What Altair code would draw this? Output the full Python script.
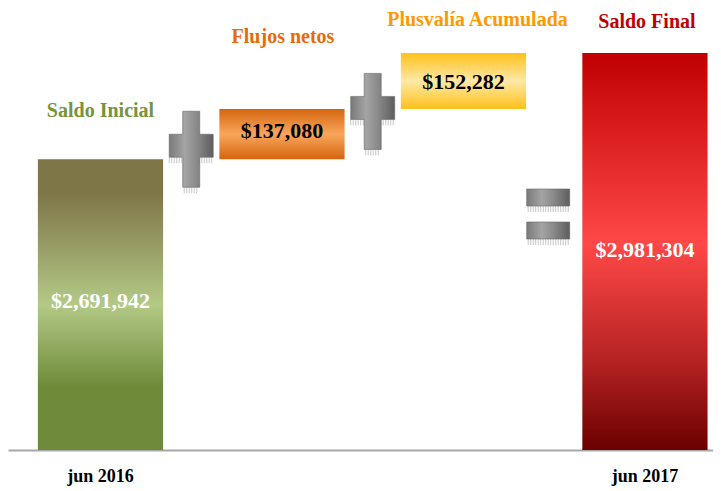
import altair as alt
import pandas as pd

# ---- data ----
steps = ["Saldo Inicial", "Flujos netos", "Plusvalía Acumulada", "Saldo Final"]
amounts = [2691942, 137080, 152282, 2981304]
kinds = ["total", "delta", "delta", "total"]
periods = ["jun 2016", "", "", "jun 2017"]
operators = ["+", "+", "="]

# ---- styling ----
title_colors = ["#77933c", "#e46c0a", "#ff9900", "#c00000"]
value_colors = ["#ffffff", "#000000", "#000000", "#ffffff"]
title_dy = [-42, -66, -27, -25]
title_dx = [0, 1, 14, 2]
value_dy = [3, 4, 8, 5]
gradients = [
    [("#7f7648", 0), ("#7f7648", 0.12), ("#b3c986", 0.5), ("#6f8b3a", 0.78), ("#6f8a3a", 1)],
    [("#d4650e", 0), ("#f9a65c", 0.5), ("#d4650e", 1)],
    [("#ffc01a", 0), ("#ffe9a6", 0.5), ("#ffc01a", 1)],
    [("#c00000", 0), ("#ff4848", 0.48), ("#b42222", 0.78), ("#6a0000", 1)],
]
FONT = "Liberation Serif"
axis_min, axis_max = 1900000, 3103870
half_bar = 0.345

rows = []
running = 0
for i, (s, a, k, p) in enumerate(zip(steps, amounts, kinds, periods)):
    if k == "total":
        start, end = axis_min, a
    else:
        start, end = running, running + a
    running = end
    rows.append(dict(idx=i, step=s, amount=a, start=start, end=end,
                     label=f"${a:,}", period=p))
df = pd.DataFrame(rows)

op_rows = []
for j, op in enumerate(operators):
    op_rows.append(dict(pos=j + 0.5, op=op, level=df.loc[j, "end"], n=j))
ops = pd.DataFrame(op_rows)

xs = alt.Scale(domain=[-0.5096, 3.375], nice=False, zero=False)
ys = alt.Scale(domain=[axis_min, axis_max], nice=False, zero=False)
xaxis = alt.Axis(domain=True, domainColor="#a8a8a8", domainWidth=2, ticks=False,
                 labels=False, grid=False, title=None)


def grad(stops, vertical=True):
    return alt.LinearGradient(
        gradient="linear", x1=0, y1=0,
        x2=0 if vertical else 1, y2=1 if vertical else 0,
        stops=[alt.GradientStop(color=c, offset=o) for c, o in stops])


layers = []
base = alt.Chart(df).transform_calculate(
    x0=f"datum.idx - {half_bar}", x1=f"datum.idx + {half_bar}",
    mid="(datum.start + datum.end) / 2")

for i in range(len(steps)):
    b = base.transform_filter(f"datum.idx == {i}")
    layers.append(b.mark_bar(color=grad(gradients[i])).encode(
        x=alt.X("x0:Q", scale=xs, axis=xaxis), x2="x1:Q",
        y=alt.Y("start:Q", scale=ys, axis=None), y2="end:Q"))
    layers.append(b.mark_text(font=FONT, fontWeight="bold", fontSize=20,
                              color=title_colors[i], baseline="alphabetic",
                              dy=title_dy[i], dx=title_dx[i]).encode(
        x=alt.X("idx:Q", scale=xs, axis=xaxis),
        y=alt.Y("end:Q", scale=ys, axis=None), text="step:N"))
    layers.append(b.mark_text(font=FONT, fontWeight="bold", fontSize=22,
                              color=value_colors[i], baseline="alphabetic",
                              dy=value_dy[i]).encode(
        x=alt.X("idx:Q", scale=xs, axis=xaxis),
        y=alt.Y("mid:Q", scale=ys, axis=None), text="label:N"))

layers.append(base.transform_filter("datum.period != ''").mark_text(
    font=FONT, fontWeight="bold", fontSize=18, color="#000000",
    baseline="alphabetic", dy=32).encode(
    x=alt.X("idx:Q", scale=xs, axis=xaxis),
    y=alt.Y("start:Q", scale=ys, axis=None), text="period:N"))


# operator icons (paths in pixel units, size=4 -> scale 1)
def cross_path(cy):
    t, b = cy - 38, cy + 38
    ht, hb = cy - 15, cy + 8
    return (f"M -8.5 {t} L 8.5 {t} L 8.5 {ht} L 22 {ht} L 22 {hb} L 8.5 {hb} "
            f"L 8.5 {b} L -8.5 {b} L -8.5 {hb} L -22 {hb} L -22 {ht} L -8.5 {ht} Z")


def equals_path(cx, cy):
    l, r = cx - 21.5, cx + 21.5
    return (f"M {l} {cy-25} L {r} {cy-25} L {r} {cy-8} L {l} {cy-8} Z "
            f"M {l} {cy+8} L {r} {cy+8} L {r} {cy+25} L {l} {cy+25} Z")


def fringe_path(cx, y, half):
    parts = []
    x = cx - half
    while x <= cx + half:
        parts.append(f"M {x:.1f} {y} L {x:.1f} {y+6}")
        x += 2.5
    return " ".join(parts)


icon_fill = grad([("#7a7a7a", 0), ("#a4a4a4", 0.35), ("#8c8c8c", 0.6), ("#5e5e5e", 1)], vertical=False)
shapes = [cross_path(-10), cross_path(2.5), equals_path(-6, 161)]
fringes = [
    fringe_path(0, -10 + 38, 7) + " " + fringe_path(-15, -10 + 8, 7) + " " + fringe_path(15, -10 + 8, 7),
    fringe_path(0, 2.5 + 38, 7) + " " + fringe_path(-15, 2.5 + 8, 7) + " " + fringe_path(15, 2.5 + 8, 7),
    fringe_path(-6, 161 - 8, 20) + " " + fringe_path(-6, 161 + 25, 20),
]
for j in range(len(operators)):
    o = alt.Chart(ops).transform_filter(f"datum.n == {j}")
    enc = dict(x=alt.X("pos:Q", scale=xs, axis=xaxis),
               y=alt.Y("level:Q", scale=ys, axis=None))
    layers.append(o.mark_point(shape=fringes[j], size=4, filled=False,
                               stroke="#b8b8b8", strokeWidth=0.8, opacity=1).encode(**enc))
    layers.append(o.mark_point(shape=shapes[j], size=4, filled=True,
                               fill=icon_fill, stroke="#666666", strokeWidth=0.6,
                               opacity=1).encode(**enc))

chart = alt.layer(*layers).properties(
    width=705, height=442, padding=0, background="white"
).configure_view(stroke=None)

chart.save("out.html", embed_options={"renderer": "svg", "actions": False})
